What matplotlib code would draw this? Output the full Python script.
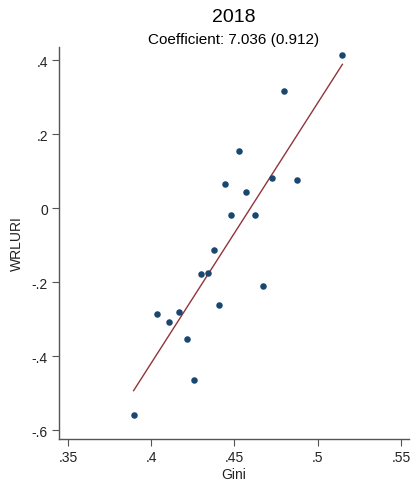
import numpy as np
import matplotlib
matplotlib.use("Agg")
import matplotlib.pyplot as plt

plt.rcParams['font.family'] = ['Liberation Sans', 'DejaVu Sans']

# Gini vs WRLURI, 2018
gini = [0.5148, 0.4796, 0.4528, 0.4444, 0.4726, 0.4878, 0.4568, 0.4478,
        0.4624, 0.4374, 0.4300, 0.4338, 0.4670, 0.4408, 0.4032, 0.4166,
        0.4108, 0.4216, 0.4258, 0.3894]
wrluri = [0.4135, 0.316, 0.1536, 0.0642, 0.0824, 0.0762, 0.0426, -0.0186,
          -0.017, -0.1126, -0.1768, -0.1757, -0.210, -0.2607, -0.286, -0.2813,
          -0.3076, -0.3528, -0.4638, -0.5586]
slope = 7.036
se = 0.912
xticks = [0.35, 0.4, 0.45, 0.5, 0.55]
xlabels = ['.35', '.4', '.45', '.5', '.55']
yticks = [-0.6, -0.4, -0.2, 0, 0.2, 0.4]
ylabels = ['-.6', '-.4', '-.2', '0', '.2', '.4']

x = np.array(gini)
y = np.array(wrluri)
intercept = y.mean() - slope * x.mean()
xl = np.array([x.min(), x.max()])

fig = plt.figure(figsize=(4.11, 4.81), dpi=100)
ax = fig.add_axes([59/411, 1-440/481, 350/411, 392/481])

ax.scatter(x, y, s=22, color='#1a476f', zorder=3, linewidths=0)
ax.plot(xl, intercept + slope * xl, color='#90353b', lw=1.0, zorder=2)

ax.set_xlim(0.3446, 0.5548)
ax.set_ylim(-0.624, 0.436)
ax.set_xticks(xticks)
ax.set_xticklabels(xlabels)
ax.set_yticks(yticks)
ax.set_yticklabels(ylabels)

for s in ['top', 'right']:
    ax.spines[s].set_visible(False)
for s in ['left', 'bottom']:
    ax.spines[s].set_color('#555555')
    ax.spines[s].set_linewidth(1.0)
ax.tick_params(length=5, width=0.8, color='#555555', labelsize=10,
               labelcolor='#222222', pad=3)

ax.set_xlabel('Gini', fontsize=10, color='#222222')
ax.xaxis.set_label_coords(0.5, -0.072)
ax.set_ylabel('WRLURI', fontsize=10, color='#222222')
ax.yaxis.set_label_coords(-0.1, 0.5)

fig.text(234/411, 1-17/481, '2018', ha='center', va='center', fontsize=14)
fig.text(234/411, 1-40/481, 'Coefficient: %.3f (%.3f)' % (slope, se),
         ha='center', va='center', fontsize=11)

fig.savefig('out.png', dpi=100)
